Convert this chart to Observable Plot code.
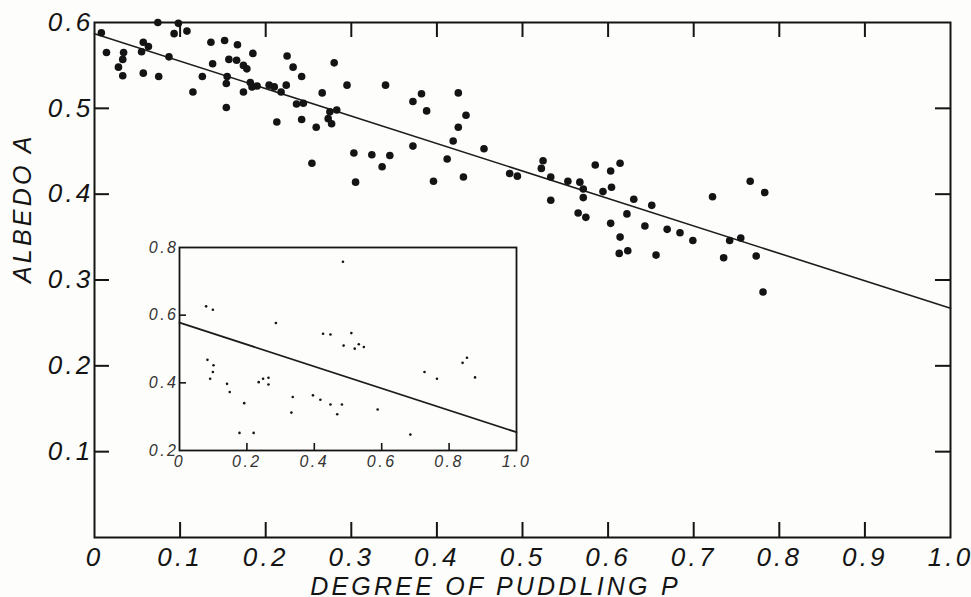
<!DOCTYPE html>
<html>
<head>
<meta charset="utf-8">
<script src="https://cdn.jsdelivr.net/npm/d3@7"></script>
<script src="https://cdn.jsdelivr.net/npm/@observablehq/plot@0.6"></script>
<style>
  html, body { margin: 0; padding: 0; background: #fdfdfb; }
  #wrap { position: relative; width: 971px; height: 597px; overflow: hidden; }
  #main text { letter-spacing: 3.2px; }
  #inset { position: absolute; left: 116px; top: 232px; }
  #inset text { letter-spacing: 2.5px; }
  #main g[aria-label^="x-axis"], #main g[aria-label^="y-axis"],
  #inset g[aria-label^="x-axis"], #inset g[aria-label^="y-axis"] { display: none; }
</style>
</head>
<body>
<div id="wrap"><div id="main"></div><div id="inset"></div></div>
<script>
// Main scatter: degree of puddling P vs albedo A
const mainP = [0.008,0.014,0.028,0.033,0.034,0.033,0.055,0.057,0.063,0.057,0.075,0.074,0.087,0.093,0.098,0.108,0.115,0.126,0.136,0.138,0.152,0.155,0.154,0.154,0.157,0.166,0.167,0.174,0.178,0.185,0.182,0.174,0.184,0.190,0.204,0.210,0.218,0.213,0.225,0.232,0.242,0.224,0.236,0.244,0.242,0.259,0.266,0.254,0.280,0.275,0.283,0.273,0.277,0.295,0.303,0.305,0.324,0.336,0.345,0.340,0.372,0.382,0.388,0.372,0.396,0.412,0.419,0.425,0.425,0.434,0.431,0.455,0.485,0.494,0.524,0.522,0.533,0.533,0.553,0.567,0.571,0.571,0.565,0.574,0.585,0.594,0.603,0.604,0.614,0.603,0.614,0.613,0.623,0.622,0.630,0.643,0.651,0.656,0.669,0.684,0.699,0.722,0.735,0.742,0.755,0.766,0.773,0.783,0.781];
const mainA = [0.588,0.565,0.548,0.538,0.565,0.557,0.566,0.577,0.572,0.541,0.537,0.600,0.560,0.587,0.599,0.590,0.519,0.537,0.577,0.552,0.579,0.537,0.529,0.501,0.557,0.556,0.574,0.550,0.546,0.564,0.530,0.519,0.525,0.526,0.527,0.525,0.519,0.484,0.561,0.548,0.537,0.527,0.505,0.506,0.487,0.478,0.518,0.436,0.553,0.496,0.498,0.488,0.482,0.527,0.448,0.414,0.446,0.432,0.445,0.527,0.508,0.517,0.497,0.456,0.415,0.441,0.462,0.478,0.518,0.492,0.420,0.453,0.424,0.421,0.439,0.430,0.420,0.393,0.415,0.414,0.406,0.396,0.378,0.373,0.434,0.403,0.427,0.408,0.436,0.366,0.350,0.331,0.334,0.377,0.394,0.363,0.387,0.329,0.359,0.355,0.346,0.397,0.326,0.346,0.349,0.415,0.328,0.402,0.286];
const fitP = [0, 1.0];
const fitA = [0.587, 0.267];

// Inset scatter
const insetP = [0.079,0.099,0.083,0.101,0.099,0.091,0.141,0.149,0.192,0.178,0.220,0.235,0.248,0.264,0.264,0.286,0.336,0.332,0.396,0.418,0.448,0.468,0.482,0.426,0.448,0.485,0.487,0.510,0.520,0.532,0.547,0.588,0.685,0.727,0.764,0.840,0.853,0.877];
const insetA = [0.626,0.616,0.468,0.452,0.432,0.412,0.397,0.373,0.340,0.252,0.252,0.402,0.412,0.415,0.395,0.577,0.358,0.312,0.363,0.350,0.336,0.307,0.336,0.545,0.543,0.758,0.510,0.547,0.501,0.514,0.506,0.321,0.247,0.432,0.412,0.459,0.474,0.416];
const insetFitP = [0, 1.0];
const insetFitA = [0.578, 0.254];

// Tick labels
const xTickValues = [0, 0.1, 0.2, 0.3, 0.4, 0.5, 0.6, 0.7, 0.8, 0.9, 1.0];
const xInnerTicks = [0.1, 0.2, 0.3, 0.4, 0.5, 0.6, 0.7, 0.8, 0.9];
const yTickValues = [0.1, 0.2, 0.3, 0.4, 0.5, 0.6];
const yInnerTicks = [0.1, 0.2, 0.3, 0.4, 0.5];
const insetXTicks = [0, 0.2, 0.4, 0.6, 0.8, 1.0];
const insetXInner = [0.2, 0.4, 0.6, 0.8];
const insetYTicks = [0.2, 0.4, 0.6, 0.8];
const insetYInner = [0.4, 0.6];
const xTitle = "DEGREE OF PUDDLING P";
const yTitle = "ALBEDO A";

const fmt = d => d === 0 ? "0" : d.toFixed(1);
const FONT = "'Liberation Sans', Arial, Helvetica, sans-serif";
const INK = "#141414";

const mainData = mainP.map((p, i) => ({p, a: mainA[i]}));
const fitData = fitP.map((p, i) => ({p, a: fitA[i]}));
const insetData = insetP.map((p, i) => ({p, a: insetA[i]}));
const insetFitData = insetFitP.map((p, i) => ({p, a: insetFitA[i]}));

const MW = 971, MH = 597, ML = 94, MR = 21, MT = 22, MB = 60;
const mainFW = MW - ML - MR, mainFH = MH - MT - MB, TICK = 15;

const main = Plot.plot({
  width: MW, height: MH,
  marginLeft: ML, marginRight: MR, marginTop: MT, marginBottom: MB,
  x: {domain: [0, 1], label: null},
  y: {domain: [0, 0.6], label: null},
  style: {background: "#fdfdfb", color: INK},
  marks: [
    Plot.tickX(xInnerTicks, {x: d => d, insetTop: mainFH - TICK, stroke: INK, strokeWidth: 2}),
    Plot.tickY(yInnerTicks, {y: d => d, insetRight: mainFW - TICK, stroke: INK, strokeWidth: 2}),
    Plot.tickX(xInnerTicks, {x: d => d, insetBottom: mainFH - TICK, stroke: INK, strokeWidth: 2}),
    Plot.tickY(yInnerTicks, {y: d => d, insetLeft: mainFW - TICK, stroke: INK, strokeWidth: 2}),
    Plot.frame({stroke: INK, strokeWidth: 2}),
    Plot.text(xTickValues, {x: d => d, text: fmt, frameAnchor: "bottom", lineAnchor: "top", dy: 10, fontSize: 26, fontStyle: "italic", fontFamily: FONT, fill: INK}),
    Plot.text(yTickValues, {y: d => d, text: fmt, frameAnchor: "left", textAnchor: "end", dx: -1, fontSize: 26, fontStyle: "italic", fontFamily: FONT, fill: INK}),
    Plot.line(fitData, {x: "p", y: "a", stroke: "#1c1c1c", strokeWidth: 1.6}),
    Plot.dot(mainData, {x: "p", y: "a", r: 3.8, fill: INK, stroke: "none"}),
    Plot.text([xTitle], {text: d => d, frameAnchor: "bottom", dy: 57, dx: -27, fontSize: 25, fontStyle: "italic", fontFamily: FONT, fill: INK}),
    Plot.text([yTitle], {text: d => d, frameAnchor: "left", rotate: -90, dx: -72, dy: 3, fontSize: 25, fontStyle: "italic", fontFamily: FONT, fill: INK})
  ]
});
document.getElementById("main").append(main);

const IW = 414, IH = 245, IL = 63, IR = 14, IT = 15, IB = 27, ITICK = 7;
const insFW = IW - IL - IR, insFH = IH - IT - IB;

const inset = Plot.plot({
  width: IW, height: IH,
  marginLeft: IL, marginRight: IR, marginTop: IT, marginBottom: IB,
  x: {domain: [0, 1], label: null},
  y: {domain: [0.2, 0.8], label: null},
  style: {background: "transparent", color: INK},
  marks: [
    Plot.tickX(insetXInner, {x: d => d, insetTop: insFH - ITICK, stroke: INK, strokeWidth: 1.6}),
    Plot.tickY(insetYInner, {y: d => d, insetRight: insFW - ITICK, stroke: INK, strokeWidth: 1.6}),
    Plot.frame({stroke: INK, strokeWidth: 1.8}),
    Plot.text(insetXTicks, {x: d => d, text: fmt, frameAnchor: "bottom", lineAnchor: "top", dy: 5, fontSize: 16, fontStyle: "italic", fontFamily: FONT, fill: "#333"}),
    Plot.text(insetYTicks, {y: d => d, text: fmt, frameAnchor: "left", textAnchor: "end", dx: -1, fontSize: 16, fontStyle: "italic", fontFamily: FONT, fill: "#333"}),
    Plot.line(insetFitData, {x: "p", y: "a", stroke: "#1c1c1c", strokeWidth: 1.8}),
    Plot.dot(insetData, {x: "p", y: "a", r: 1.3, fill: INK, stroke: "none"})
  ]
});
document.getElementById("inset").append(inset);
</script>
</body>
</html>
